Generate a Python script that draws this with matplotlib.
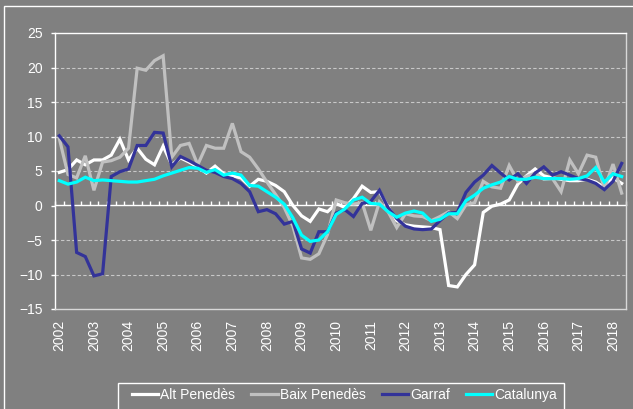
import matplotlib
matplotlib.use("Agg")
import matplotlib.pyplot as plt
from matplotlib.patches import Rectangle
import numpy as np

plt.rcParams['font.family'] = ['Liberation Sans', 'DejaVu Sans']

years = [str(y) for y in range(2002, 2019)]
series_names = ["Alt Penedès", "Baix Penedès", "Garraf", "Catalunya"]

alt_penedes = [4.8, 5.2, 6.6, 5.9, 6.6, 6.6, 7.3, 9.6, 6.6, 8.3,
               6.7, 5.9, 8.6, 5.9, 6.9, 6.3, 5.6, 4.7, 5.7, 4.6,
               4.3, 4.0, 2.8, 3.8, 3.5, 2.9, 2.0, 0.0, -1.5, -2.3,
               -0.5, -0.9, 0.3, -0.3, 1.0, 2.8, 1.9, 2.0, -0.2, -2.2,
               -2.8, -3.0, -3.1, -3.2, -3.5, -11.6, -11.8, -10.0, -8.6, -1.0,
               -0.1, 0.2, 0.8, 3.1, 4.3, 5.3, 4.3, 4.0, 3.8, 3.6,
               3.6, 3.8, 3.4, 2.6, 4.0, 3.2]
baix_penedes = [9.7, 4.5, 4.0, 7.2, 2.2, 6.3, 6.5, 7.0, 8.3, 19.9,
                19.6, 21.0, 21.7, 7.0, 8.7, 9.0, 5.9, 8.7, 8.3, 8.3,
                11.9, 7.8, 7.0, 5.3, 3.4, 1.6, -0.3, -3.0, -7.6, -7.8,
                -7.0, -4.2, 0.8, 0.4, 0.2, 0.4, -3.6, 0.5, -0.9, -3.2,
                -1.2, -1.5, -1.6, -2.2, -1.6, -0.9, -1.9, 0.1, 0.4, 3.5,
                2.7, 2.5, 5.8, 3.5, 4.2, 4.7, 3.8, 3.9, 2.0, 6.6,
                4.6, 7.3, 7.0, 2.4, 6.0, 1.8]
garraf = [10.1, 8.5, -6.8, -7.4, -10.2, -9.9, 4.2, 4.9, 5.3, 8.7,
          8.7, 10.6, 10.5, 5.6, 7.1, 6.5, 5.8, 5.1, 4.8, 4.2,
          3.9, 3.2, 2.0, -0.9, -0.6, -1.2, -2.7, -2.3, -6.3, -6.9,
          -3.8, -3.8, -1.1, -0.6, -1.6, 0.3, 0.6, 2.2, -0.3, -1.9,
          -3.0, -3.4, -3.5, -3.4, -2.2, -1.1, -1.0, 1.9, 3.4, 4.4,
          5.8, 4.7, 3.7, 4.6, 3.2, 4.7, 5.6, 4.4, 4.9, 4.4,
          3.9, 3.7, 3.2, 2.3, 3.5, 6.1]
catalunya = [3.6, 3.1, 3.4, 4.1, 3.6, 3.7, 3.6, 3.5, 3.4, 3.4,
             3.6, 3.8, 4.3, 4.7, 5.1, 5.5, 5.4, 4.8, 5.2, 4.4,
             4.7, 4.4, 2.9, 2.8, 2.0, 1.2, 0.2, -1.8, -4.3, -5.2,
             -5.0, -3.8, -1.3, -0.5, 0.8, 1.2, 0.3, 0.2, -0.9, -1.7,
             -1.1, -0.8, -1.1, -2.3, -2.0, -1.2, -1.2, 0.7, 1.5, 2.5,
             3.0, 3.4, 4.2, 3.8, 3.8, 4.1, 3.9, 3.9, 3.9, 3.8,
             3.9, 4.3, 5.5, 3.4, 4.6, 4.2]

colors = ["#ffffff", "#c0c0c0", "#333399", "#00ffff"]
bg = "#808080"

W, H = 633, 409
fig = plt.figure(figsize=(W / 100, H / 100), dpi=100, facecolor=bg)
ax = fig.add_axes([55 / W, 1 - 309 / H, (626 - 55) / W, (309 - 33) / H])
ax.set_facecolor(bg)

n = len(catalunya)
x = np.arange(n)
for vals, name, c in zip([alt_penedes, baix_penedes, garraf, catalunya], series_names, colors):
    ax.plot(x, vals, color=c, lw=2.3, label=name, solid_joinstyle='miter', zorder=3)

ax.set_xlim(-0.5, n - 0.5)
ax.set_ylim(-15, 25)
ax.set_yticks(np.arange(-15, 26, 5))
for v in [-10, -5, 5, 10, 15, 20]:
    ax.axhline(v, color="#c8c8c8", lw=0.8, ls=(0, (3, 2)), zorder=1)

ax.set_xticks(np.arange(0, n, 4))
ax.set_xticklabels(years, rotation=90, color="white", fontsize=10)
ax.tick_params(axis='x', length=0, pad=8)
ax.tick_params(axis='y', colors="white", labelsize=10, length=3, width=1, direction='out', pad=6)
for lab in ax.get_yticklabels():
    lab.set_color("white")

for s in ['left', 'top']:
    ax.spines[s].set_color("white")
    ax.spines[s].set_linewidth(1.0)
for s in ['right', 'bottom']:
    ax.spines[s].set_color("#d8d8d8")
    ax.spines[s].set_linewidth(1.0)

# zero axis with quarter tick marks
sec = ax.secondary_xaxis(15 / 40)
sec.set_xticks(np.arange(-0.5, n, 1))
sec.tick_params(axis='x', direction='in', length=3, width=1, color="white", labelbottom=False)
sec.spines['bottom'].set_color("white")
sec.spines['bottom'].set_linewidth(1.0)

# outer frame
fig.patches.append(Rectangle((4 / W, -0.1), 1.2, 1 - 6 / H + 0.1, transform=fig.transFigure,
                             fill=False, edgecolor="white", lw=1.0))
# legend frame
fig.patches.append(Rectangle((118 / W, -0.05), (564 - 118) / W, 0.05 + 1 - 383 / H,
                             transform=fig.transFigure, fill=False, edgecolor="white", lw=1.0))

handles, labels = ax.get_legend_handles_labels()
leg = fig.legend(handles, labels, loc='upper left', bbox_to_anchor=(132 / W, 1 - 388 / H),
                 ncol=4, frameon=False, fontsize=10, handlelength=1.9, handletextpad=0.15,
                 columnspacing=1.15, borderpad=0, borderaxespad=0, labelcolor="white")

fig.savefig("out.png", dpi=100, facecolor=bg)
